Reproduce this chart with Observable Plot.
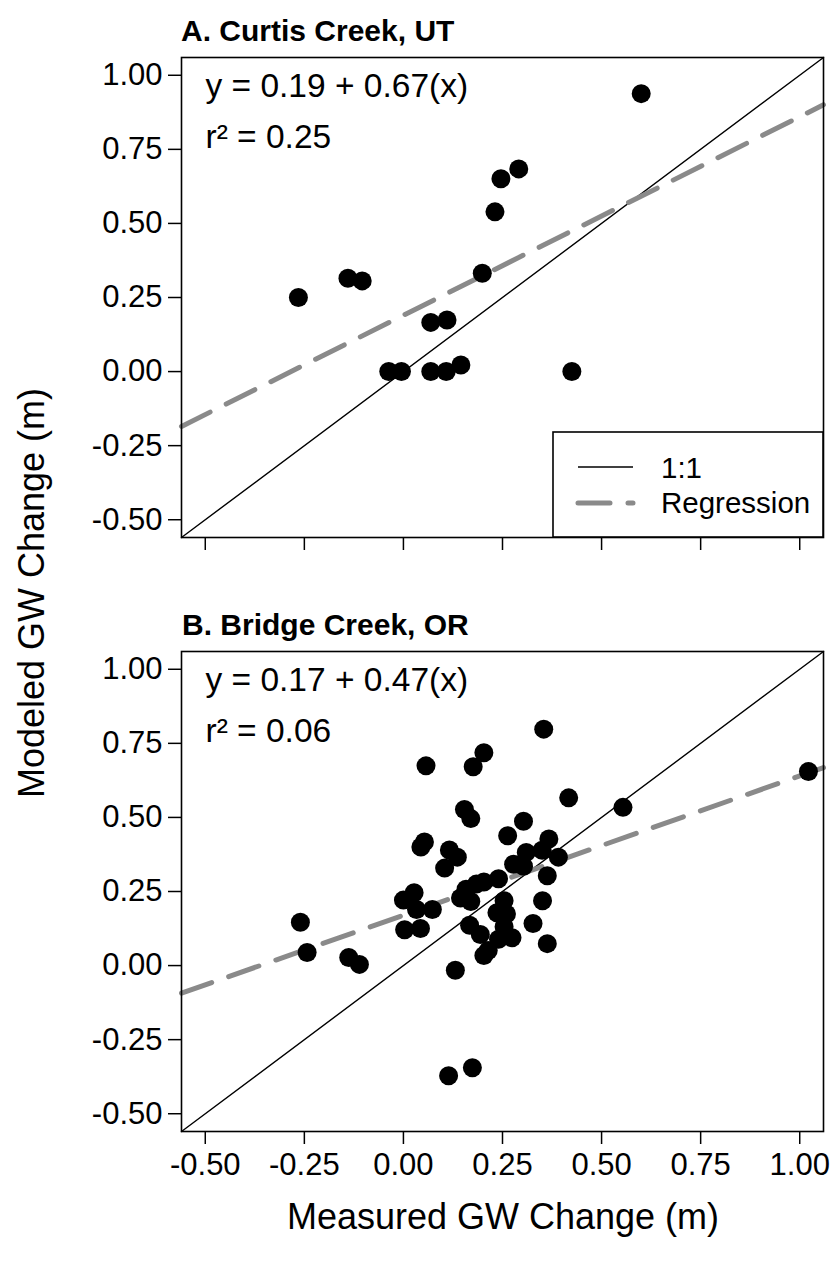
<!DOCTYPE html>
<html>
<head>
<meta charset="utf-8">
<script src="https://cdn.jsdelivr.net/npm/d3@7"></script>
<script src="https://cdn.jsdelivr.net/npm/@observablehq/plot@0.6"></script>
<style>
  html, body { margin: 0; padding: 0; background: white; }
  #wrap { position: relative; width: 832px; height: 1266px; background: white; font-family: "Liberation Sans", Arial, sans-serif; }
  #wrap > svg, #wrap > div { position: absolute; left: 0; }
</style>
</head>
<body>
<div id="wrap"></div>
<script>
// ---- data ----
const tickValues = [-0.5, -0.25, 0, 0.25, 0.5, 0.75, 1.0];
const axisDomain = [-0.56, 1.06];

const panelTitles = ["A. Curtis Creek, UT", "B. Bridge Creek, OR"];
const equations = ["y = 0.19 + 0.67(x)", "y = 0.17 + 0.47(x)"];
const r2Labels = ["r\u00B2 = 0.25", "r\u00B2 = 0.06"];
const curtisCoef = [0.19, 0.67];
const bridgeCoef = [0.17, 0.47];
const legendLabels = ["1:1", "Regression"];
const xTitle = "Measured GW Change (m)";
const yTitle = "Modeled GW Change (m)";

const curtisMeasured = [0.600, 0.291, 0.246, 0.231, 0.199, -0.140, -0.104, -0.265, 0.069, 0.110, -0.037, -0.005, 0.069, 0.108, 0.145, 0.425];
const curtisModeled  = [0.938, 0.684, 0.651, 0.539, 0.332, 0.315, 0.306, 0.250, 0.166, 0.174, 0.000, 0.000, 0.000, 0.000, 0.022, 0.000];

const bridgeMeasured = [0.354, 0.203, 0.057, 0.176, 1.022, 0.417, 0.554, 0.154, 0.170, 0.303,
                        0.263, 0.053, 0.044, 0.367, 0.116, 0.136, 0.310, 0.350, 0.391, 0.104,
                        0.278, 0.303, 0.363, 0.240, 0.203, 0.184, 0.158, 0.027, 0.000, 0.254,
                        0.351, 0.170, 0.144, 0.033, 0.073, 0.236, 0.260, -0.260, 0.327, 0.167,
                        0.254, 0.003, 0.043, 0.194, 0.274, 0.240, 0.363, -0.243, 0.214, 0.203,
                        -0.138, -0.111, 0.131, 0.114, 0.174];
const bridgeModeled  = [0.798, 0.718, 0.674, 0.671, 0.655, 0.566, 0.534, 0.527, 0.496, 0.487,
                        0.438, 0.417, 0.400, 0.427, 0.390, 0.366, 0.382, 0.389, 0.366, 0.329,
                        0.342, 0.335, 0.303, 0.293, 0.282, 0.275, 0.258, 0.246, 0.221, 0.219,
                        0.219, 0.216, 0.228, 0.189, 0.189, 0.178, 0.174, 0.146, 0.142, 0.136,
                        0.131, 0.121, 0.125, 0.105, 0.094, 0.089, 0.074, 0.044, 0.051, 0.034,
                        0.027, 0.004, -0.016, -0.372, -0.345];

// ---- layout ----
const FONT = "'Liberation Sans', Arial, sans-serif";
const fmt = d => d.toFixed(2);

function panel(xs, ys, coef, eq, r2, showLabels, marginBottom) {
  const pts = xs.map((x, i) => ({x, y: ys[i]}));
  const reg = axisDomain.map(x => ({x, y: coef[0] + coef[1] * x}));
  const one = axisDomain.map(v => ({x: v, y: v}));
  return Plot.plot({
    width: 832,
    height: 57 + 480 + marginBottom,
    marginLeft: 181,
    marginRight: 9,
    marginTop: 57,
    marginBottom,
    x: {domain: axisDomain, label: null},
    y: {domain: axisDomain, label: null},
    style: {fontFamily: FONT, fontSize: "31px", color: "black", background: "transparent", overflow: "visible"},
    marks: [
      Plot.line(one, {x: "x", y: "y", stroke: "black", strokeWidth: 1.4}),
      Plot.line(reg, {x: "x", y: "y", stroke: "#8a8a8a", strokeWidth: 5, strokeDasharray: "32,18", strokeLinecap: "round"}),
      Plot.dot(pts, {x: "x", y: "y", r: 9.5, fill: "black"}),
      Plot.frame({stroke: "black", strokeWidth: 1.6}),
      Plot.axisY({ticks: tickValues, tickSize: 13, tickPadding: 6, tickFormat: fmt, fontSize: 31, strokeWidth: 1.5, label: null}),
      Plot.axisX({ticks: tickValues, tickSize: 13, tickPadding: 8, tickFormat: showLabels ? fmt : () => "", fontSize: 31, strokeWidth: 1.5, label: null}),
      Plot.text([eq], {frameAnchor: "top-left", dx: 24, dy: 16, lineAnchor: "top", textAnchor: "start", fontSize: 33.5, fill: "black"}),
      Plot.text([r2], {frameAnchor: "top-left", dx: 24, dy: 67, lineAnchor: "top", textAnchor: "start", fontSize: 33.5, fill: "black"})
    ]
  });
}

const wrap = document.getElementById("wrap");

const plotA = panel(curtisMeasured, curtisModeled, curtisCoef, equations[0], r2Labels[0], false, 20);
plotA.style.top = "0px";
wrap.appendChild(plotA);

const plotB = panel(bridgeMeasured, bridgeModeled, bridgeCoef, equations[1], r2Labels[1], true, 70);
plotB.style.top = "594px";
wrap.appendChild(plotB);

// overlay: panel titles, axis titles, legend
const ns = "http://www.w3.org/2000/svg";
const ov = document.createElementNS(ns, "svg");
ov.setAttribute("width", 832);
ov.setAttribute("height", 1266);
ov.style.position = "absolute";
ov.style.top = "0px";
ov.style.left = "0px";
ov.style.fontFamily = FONT;
function el(tag, attrs, text) {
  const e = document.createElementNS(ns, tag);
  for (const k in attrs) e.setAttribute(k, attrs[k]);
  if (text != null) e.textContent = text;
  ov.appendChild(e);
  return e;
}
el("text", {x: 181, y: 41, "font-size": 30, "font-weight": "bold", fill: "black"}, panelTitles[0]);
el("text", {x: 182, y: 635, "font-size": 30, "font-weight": "bold", fill: "black"}, panelTitles[1]);
el("text", {x: 503, y: 1229, "font-size": 36, "text-anchor": "middle", fill: "black"}, xTitle);
el("text", {x: 0, y: 0, "font-size": 36, "text-anchor": "middle", fill: "black", transform: "translate(44,593) rotate(-90)"}, yTitle);

// legend (panel A)
el("rect", {x: 553, y: 432, width: 270, height: 105, fill: "white", stroke: "black", "stroke-width": 1.6});
el("line", {x1: 578, x2: 633, y1: 467, y2: 467, stroke: "black", "stroke-width": 1.4});
el("line", {x1: 578, x2: 633, y1: 503, y2: 503, stroke: "#8a8a8a", "stroke-width": 5, "stroke-dasharray": "32,18", "stroke-linecap": "round"});
el("text", {x: 661, y: 478, "font-size": 29.5, fill: "black"}, legendLabels[0]);
el("text", {x: 661, y: 513, "font-size": 29.5, fill: "black"}, legendLabels[1]);
wrap.appendChild(ov);
</script>
</body>
</html>
